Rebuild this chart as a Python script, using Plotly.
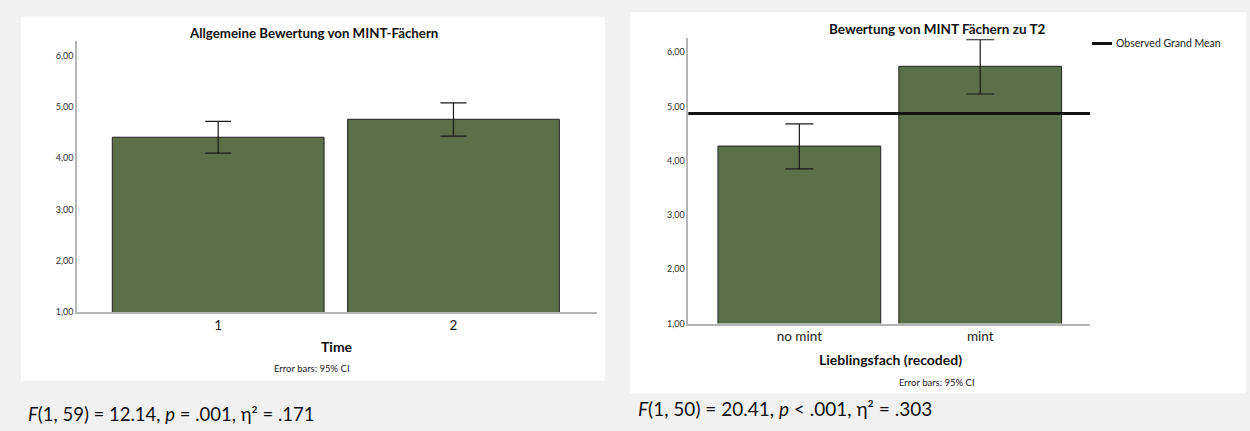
import plotly.graph_objects as go

W, H = 1250, 431

# ---------------- data ----------------
time_categories = ["1", "2"]
time_means = [4.41, 4.76]
time_ci_upper = [4.72, 5.08]
time_ci_lower = [4.10, 4.43]

fach_categories = ["no mint", "mint"]
fach_means = [4.27, 5.74]
fach_ci_upper = [4.68, 6.23]
fach_ci_lower = [3.85, 5.23]
grand_mean = 4.87

y_tick_values = [1, 2, 3, 4, 5, 6]
y_tick_labels = ["1,00", "2,00", "3,00", "4,00", "5,00", "6,00"]

left_title = "Allgemeine Bewertung von MINT-Fächern"
right_title = "Bewertung von MINT Fächern zu T2"
left_xtitle = "Time"
right_xtitle = "Lieblingsfach (recoded)"
note_text = "Error bars: 95% CI"
legend_text = "Observed Grand Mean"
left_stats = "<i>F</i>(1, 59) = 12.14, <i>p</i> = .001, η² = .171"
right_stats = "<i>F</i>(1, 50) = 20.41, <i>p</i> < .001, η² = .303"

# ---------------- style ----------------
GREEN = "#5b6f48"
EDGE = "#232323"
AXIS = "#b5b5b5"
BG = "#f1f1f1"
FONT = "Lato"


def px(x):
    return x / W


def py(y):
    return 1 - y / H


fig = go.Figure()

fig.add_trace(go.Bar(
    x=time_categories, y=time_means, width=0.9,
    marker=dict(color=GREEN, line=dict(color=EDGE, width=1)),
    error_y=dict(type="data", symmetric=False,
                 array=[u - m for u, m in zip(time_ci_upper, time_means)],
                 arrayminus=[m - l for l, m in zip(time_ci_lower, time_means)],
                 color="#1a1a1a", thickness=1.2, width=13),
    xaxis="x", yaxis="y", showlegend=False, hoverinfo="skip"))

fig.add_trace(go.Bar(
    x=fach_categories, y=fach_means, width=0.9,
    marker=dict(color=GREEN, line=dict(color=EDGE, width=1)),
    error_y=dict(type="data", symmetric=False,
                 array=[u - m for u, m in zip(fach_ci_upper, fach_means)],
                 arrayminus=[m - l for l, m in zip(fach_ci_lower, fach_means)],
                 color="#1a1a1a", thickness=1.2, width=14),
    xaxis="x2", yaxis="y2", showlegend=False, hoverinfo="skip"))

common_x = dict(type="category", showline=True, linecolor=AXIS, linewidth=1.5,
                ticks="", showgrid=False, zeroline=False,
                tickfont=dict(family=FONT, size=13.5, color="#222"))
common_y = dict(showline=True, linecolor=AXIS, linewidth=1.5, ticks="",
                showgrid=False, zeroline=False,
                tickvals=y_tick_values, ticktext=y_tick_labels,
                tickfont=dict(family=FONT, size=9, color="#333"))

fig.update_layout(
    width=W, height=H, margin=dict(l=0, r=0, t=0, b=0),
    paper_bgcolor=BG, plot_bgcolor="white", showlegend=False,
    bargap=0.1,
    xaxis=dict(common_x, domain=[px(77), px(597)], anchor="y", range=[-0.6, 1.61]),
    yaxis=dict(common_y, domain=[py(316), py(41.7)], anchor="x", range=[1, 6.28]),
    xaxis2=dict(common_x, domain=[px(688.3), px(1090)], anchor="y2", range=[-0.614, 1.607]),
    yaxis2=dict(common_y, domain=[py(327.3), py(38)], anchor="x2", range=[1, 6.27]),
)

shapes = [
    dict(type="rect", xref="paper", yref="paper", layer="below",
         x0=px(21), x1=px(605), y0=py(385), y1=py(17),
         fillcolor="white", line=dict(width=0)),
    dict(type="rect", xref="paper", yref="paper", layer="below",
         x0=px(630), x1=px(1246), y0=py(398), y1=py(12.5),
         fillcolor="white", line=dict(width=0)),
    dict(type="line", xref="x2 domain", yref="y2", x0=0, x1=1,
         y0=grand_mean, y1=grand_mean, line=dict(color="#111", width=3)),
    dict(type="line", xref="paper", yref="paper", x0=px(1092), x1=px(1112),
         y0=py(44), y1=py(44), line=dict(color="#111", width=3)),
]
fig.update_layout(shapes=shapes)


def ann(text, x, y, size, bold=False, anchor="center", family=FONT, color="#222"):
    t = f"<b>{text}</b>" if bold else text
    return dict(text=t, x=px(x), y=py(y), xref="paper", yref="paper",
                xanchor=anchor, yanchor="middle", showarrow=False,
                font=dict(family=family, size=size, color=color))


annotations = [
    ann(left_title, 313, 33, 13.3, bold=True, color="#111"),
    ann(right_title, 937, 29, 13.5, bold=True, color="#111"),
    ann(left_xtitle, 337, 351, 14, bold=True, color="#111"),
    ann(right_xtitle, 890, 364, 14, bold=True, color="#111"),
    ann(note_text, 312, 373, 9.5),
    ann(note_text, 937, 387, 9.5),
    ann(legend_text, 1114, 44, 10.5, anchor="left"),
    ann(left_stats, 26, 419, 18.5, anchor="left", color="#111"),
    ann(right_stats, 636, 413, 19, anchor="left", color="#111"),
]
fig.update_layout(annotations=annotations)

fig.write_html("out.html", config={"displayModeBar": False},
               post_script="document.body.style.margin='0';")
